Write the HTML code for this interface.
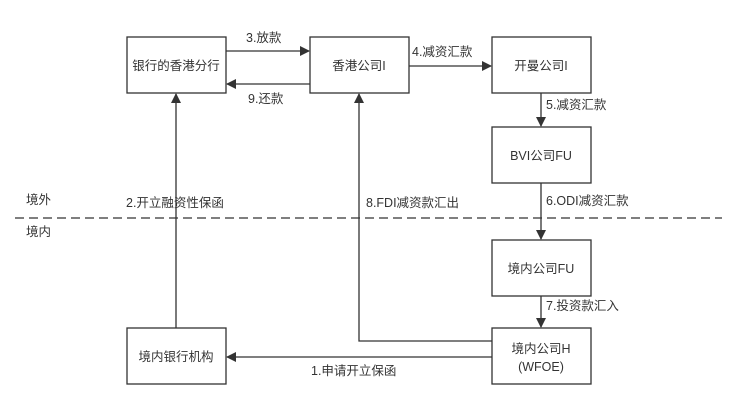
<!DOCTYPE html>
<html><head><meta charset="utf-8"><style>
body{margin:0;background:#fff;}
svg text{font-family:"Liberation Sans","Noto Sans CJK SC",sans-serif;font-size:12.5px;fill:#333;}
</style></head><body>
<svg width="737" height="411" viewBox="0 0 737 411" xmlns="http://www.w3.org/2000/svg">
<defs><marker id="a" markerWidth="10" markerHeight="10" refX="9" refY="5" orient="auto" markerUnits="userSpaceOnUse"><path d="M0,0 L10,5 L0,10 z" fill="#333"/></marker></defs>
<rect width="737" height="411" fill="#fff"/>
<g fill="#fff" stroke="#333" stroke-width="1.3">
<rect x="127" y="37" width="99" height="56"/>
<rect x="310" y="37" width="99" height="56"/>
<rect x="492" y="37" width="99" height="56"/>
<rect x="492" y="127" width="99" height="56"/>
<rect x="492" y="240" width="99" height="56"/>
<rect x="492" y="328" width="99" height="56"/>
<rect x="127" y="328" width="99" height="56"/>
</g>
<g stroke="#333" stroke-width="1.3" fill="none">
<line x1="226" y1="51" x2="309" y2="51" marker-end="url(#a)"/>
<line x1="310" y1="84" x2="227" y2="84" marker-end="url(#a)"/>
<line x1="409" y1="66" x2="491" y2="66" marker-end="url(#a)"/>
<line x1="541" y1="93" x2="541" y2="126" marker-end="url(#a)"/>
<line x1="541" y1="183" x2="541" y2="239" marker-end="url(#a)"/>
<line x1="541" y1="296" x2="541" y2="327" marker-end="url(#a)"/>
<line x1="176" y1="328" x2="176" y2="94" marker-end="url(#a)"/>
<polyline points="492,341 359,341 359,94" marker-end="url(#a)"/>
<line x1="492" y1="357" x2="227" y2="357" marker-end="url(#a)"/>
<line x1="15" y1="218" x2="722" y2="218" stroke-dasharray="9,5"/>
</g>
<g text-anchor="middle">
<text x="176" y="70">银行的香港分行</text>
<text x="359" y="70">香港公司I</text>
<text x="541" y="70">开曼公司I</text>
<text x="541" y="160">BVI公司FU</text>
<text x="541" y="273">境内公司FU</text>
<text x="541" y="353">境内公司H</text>
<text x="541" y="371">(WFOE)</text>
<text x="176" y="361">境内银行机构</text>
</g>
<text x="246" y="42">3.放款</text>
<text x="248" y="103">9.还款</text>
<text x="412" y="56">4.减资汇款</text>
<text x="546" y="109">5.减资汇款</text>
<text x="546" y="205">6.ODI减资汇款</text>
<text x="546" y="310">7.投资款汇入</text>
<text x="366" y="207">8.FDI减资款汇出</text>
<text x="126" y="207">2.开立融资性保函</text>
<text x="311" y="375">1.申请开立保函</text>
<text x="26" y="204">境外</text>
<text x="26" y="236">境内</text>
</svg>
</body></html>
